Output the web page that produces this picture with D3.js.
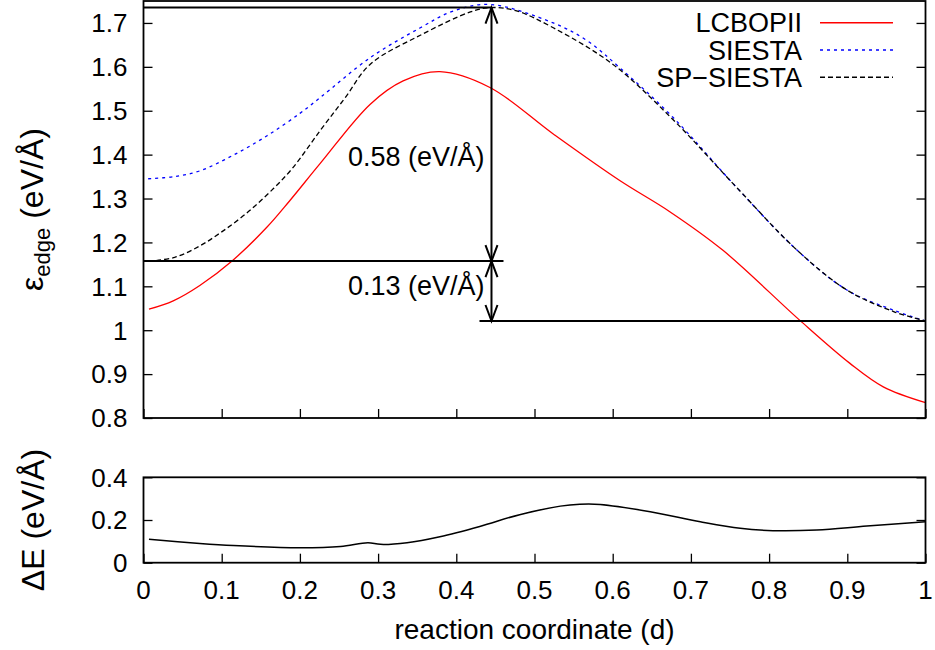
<!DOCTYPE html>
<html>
<head>
<meta charset="utf-8">
<script src="https://cdn.jsdelivr.net/npm/d3@7"></script>
<style>
  body { margin: 0; background: #fff; }
  svg { display: block; font-family: "Liberation Sans", Arial, sans-serif; }
</style>
</head>
<body>
<svg id="chart"></svg>
<script>
// values
const lcbopD = [0.007, 0.038, 0.072, 0.114, 0.158, 0.187, 0.226, 0.29, 0.332, 0.379, 0.443, 0.524, 0.609, 0.673, 0.741, 0.839, 0.903, 0.946, 1.0];
const lcbopE = [1.048, 1.067, 1.102, 1.159, 1.235, 1.295, 1.380, 1.515, 1.568, 1.589, 1.553, 1.447, 1.341, 1.270, 1.182, 1.023, 0.925, 0.871, 0.835];

const siestaD = [0.006, 0.04, 0.072, 0.114, 0.158, 0.2, 0.226, 0.29, 0.354, 0.396, 0.443, 0.524, 0.567, 0.609, 0.677, 0.756, 0.836, 0.9, 0.96, 1.0];
const siestaE = [1.345, 1.350, 1.363, 1.398, 1.443, 1.494, 1.530, 1.621, 1.689, 1.727, 1.742, 1.700, 1.660, 1.598, 1.485, 1.330, 1.182, 1.091, 1.045, 1.021];

const spD = [0.006, 0.04, 0.072, 0.1, 0.13, 0.16, 0.19, 0.226, 0.258, 0.29, 0.354, 0.418, 0.443, 0.476, 0.524, 0.6, 0.677, 0.756, 0.836, 0.9, 0.96, 1.0];
const spE = [1.157, 1.166, 1.192, 1.224, 1.264, 1.312, 1.368, 1.455, 1.530, 1.606, 1.672, 1.725, 1.735, 1.728, 1.689, 1.606, 1.480, 1.330, 1.182, 1.091, 1.042, 1.021];

const deltaD = [0.007, 0.072, 0.115, 0.2, 0.252, 0.287, 0.303, 0.337, 0.379, 0.43, 0.481, 0.533, 0.558, 0.584, 0.648, 0.712, 0.763, 0.805, 0.861, 0.925, 1.0];
const deltaE = [0.110, 0.090, 0.080, 0.070, 0.076, 0.094, 0.086, 0.094, 0.122, 0.170, 0.225, 0.265, 0.274, 0.273, 0.239, 0.192, 0.161, 0.150, 0.153, 0.172, 0.192];

const xTicks = [0, 0.1, 0.2, 0.3, 0.4, 0.5, 0.6, 0.7, 0.8, 0.9, 1];
const yTopTicks = [0.8, 0.9, 1, 1.1, 1.2, 1.3, 1.4, 1.5, 1.6, 1.7];
const yBotTicks = [0, 0.2, 0.4];

// annotation: levels and where the arrows stand
const levels = [1.735, 1.1575, 1.021];
const arrowD = 0.445;
const gapLabels = ["0.58 (eV/Å)", "0.13 (eV/Å)"];
const gapLabelE = [1.375, 1.08];

const series = [
  {name: "LCBOPII", d: lcbopD, e: lcbopE, color: "#ff0000", dash: null},
  {name: "SIESTA", d: siestaD, e: siestaE, color: "#0000ff", dash: "3,4"},
  {name: "SP\u2212SIESTA", d: spD, e: spE, color: "#000000", dash: "5,3"}
];

const width = 935, height = 650;
const left = 143.5, right = 925.5;

const svg = d3.select("#chart").attr("width", width).attr("height", height);

const x = d3.scaleLinear().domain([0, 1]).range([left, right]);
const yTop = d3.scaleLinear().domain([0.8, 1.75]).range([418, 1]);
const yBot = d3.scaleLinear().domain([0, 0.4]).range([562.7, 477.3]);

const fmt = d => String(+d.toFixed(2));

const tickStyle = g => g
  .call(g => g.select(".domain").remove())
  .call(g => g.selectAll("line").attr("stroke-width", 1.3));

// top panel ticks
svg.append("g")
  .attr("transform", `translate(0,${yTop(0.8)})`)
  .call(d3.axisTop(x).tickValues(xTicks).tickSize(9).tickFormat(""))
  .call(tickStyle);

svg.append("g")
  .attr("transform", `translate(${left},0)`)
  .call(d3.axisRight(yTop).tickValues(yTopTicks).tickSize(9).tickFormat(""))
  .call(tickStyle);

svg.append("g")
  .attr("transform", `translate(${right},0)`)
  .call(d3.axisLeft(yTop).tickValues(yTopTicks).tickSize(9).tickFormat(""))
  .call(tickStyle);

svg.append("g")
  .selectAll("text")
  .data(yTopTicks)
  .join("text")
  .attr("x", left - 16)
  .attr("y", d => yTop(d))
  .attr("dy", "0.36em")
  .attr("text-anchor", "end")
  .attr("font-size", 26)
  .text(fmt);

// bottom panel ticks
svg.append("g")
  .attr("transform", `translate(0,${yBot(0)})`)
  .call(d3.axisTop(x).tickValues(xTicks).tickSize(9).tickFormat(""))
  .call(tickStyle);

svg.append("g")
  .attr("transform", `translate(${left},0)`)
  .call(d3.axisRight(yBot).tickValues(yBotTicks).tickSize(9).tickFormat(""))
  .call(tickStyle);

svg.append("g")
  .attr("transform", `translate(${right},0)`)
  .call(d3.axisLeft(yBot).tickValues(yBotTicks).tickSize(9).tickFormat(""))
  .call(tickStyle);

svg.append("g")
  .selectAll("text")
  .data(yBotTicks)
  .join("text")
  .attr("x", left - 16)
  .attr("y", d => yBot(d))
  .attr("dy", "0.36em")
  .attr("text-anchor", "end")
  .attr("font-size", 26)
  .text(fmt);

svg.append("g")
  .selectAll("text")
  .data(xTicks)
  .join("text")
  .attr("x", d => x(d))
  .attr("y", yBot(0) + 36.6)
  .attr("text-anchor", "middle")
  .attr("font-size", 26)
  .text(fmt);

// curves
const lineTop = d3.line()
  .x(p => x(p[0]))
  .y(p => yTop(p[1]))
  .curve(d3.curveCatmullRom.alpha(0.5));

svg.append("g")
  .selectAll("path")
  .data(series)
  .join("path")
  .attr("d", s => lineTop(d3.zip(s.d, s.e)))
  .attr("fill", "none")
  .attr("stroke", s => s.color)
  .attr("stroke-width", 1.3)
  .attr("stroke-dasharray", s => s.dash);

const lineBot = d3.line()
  .x(p => x(p[0]))
  .y(p => yBot(p[1]))
  .curve(d3.curveCatmullRom.alpha(0.5));

svg.append("path")
  .attr("d", lineBot(d3.zip(deltaD, deltaE)))
  .attr("fill", "none")
  .attr("stroke", "#000")
  .attr("stroke-width", 1.5);

// annotation lines and arrows
const ax = x(arrowD);
const ann = svg.append("g").attr("stroke", "#000").attr("stroke-width", 2).attr("fill", "none");
ann.append("line").attr("x1", left).attr("x2", ax).attr("y1", yTop(levels[0])).attr("y2", yTop(levels[0]));
ann.append("line").attr("x1", left).attr("x2", ax + 12).attr("y1", yTop(levels[1])).attr("y2", yTop(levels[1]));
ann.append("line").attr("x1", ax - 12).attr("x2", right).attr("y1", yTop(levels[2])).attr("y2", yTop(levels[2]));

const head = (yTip, dir) => `M${ax - 6},${yTip + dir * 16}L${ax},${yTip}L${ax + 6},${yTip + dir * 16}`;
[[levels[0], levels[1]], [levels[1], levels[2]]].forEach(([a, b]) => {
  ann.append("line").attr("x1", ax).attr("x2", ax).attr("y1", yTop(a)).attr("y2", yTop(b));
  ann.append("path").attr("d", head(yTop(a), 1));
  ann.append("path").attr("d", head(yTop(b), -1));
});

svg.append("g")
  .selectAll("text")
  .data(gapLabels)
  .join("text")
  .attr("x", ax - 7)
  .attr("y", (d, i) => yTop(gapLabelE[i]))
  .attr("text-anchor", "end")
  .attr("font-size", 27)
  .text(d => d);

// frames
svg.append("rect")
  .attr("x", left).attr("y", yTop(1.75))
  .attr("width", right - left).attr("height", yTop(0.8) - yTop(1.75))
  .attr("fill", "none").attr("stroke", "#000").attr("stroke-width", 1.8);
svg.append("rect")
  .attr("x", left).attr("y", yBot(0.4))
  .attr("width", right - left).attr("height", yBot(0) - yBot(0.4))
  .attr("fill", "none").attr("stroke", "#000").attr("stroke-width", 1.8);

// legend
const legend = svg.append("g")
  .selectAll("g")
  .data(series)
  .join("g")
  .attr("transform", (d, i) => `translate(0,${22.7 + i * 27.3})`);
legend.append("text")
  .attr("x", 802)
  .attr("y", 9.6)
  .attr("text-anchor", "end")
  .attr("font-size", 27)
  .text(s => s.name);
legend.append("line")
  .attr("x1", 820).attr("x2", 893)
  .attr("stroke", s => s.color)
  .attr("stroke-width", 1.5)
  .attr("stroke-dasharray", s => s.dash);

// axis titles
svg.append("text")
  .attr("x", x(0.5))
  .attr("y", 639)
  .attr("text-anchor", "middle")
  .attr("font-size", 28)
  .text("reaction coordinate (d)");

const yt = svg.append("text")
  .attr("transform", `translate(43,${yTop(1.275)}) rotate(-90)`)
  .attr("text-anchor", "middle")
  .attr("font-size", 32);
yt.append("tspan").text("ε");
yt.append("tspan").attr("font-size", 22).attr("dy", 7).text("edge");
yt.append("tspan").attr("dy", -7).text(" (eV/Å)");

svg.append("text")
  .attr("transform", `translate(44,${yBot(0.2)}) rotate(-90)`)
  .attr("text-anchor", "middle")
  .attr("font-size", 32)
  .text("ΔE (eV/Å)");
</script>
</body>
</html>
